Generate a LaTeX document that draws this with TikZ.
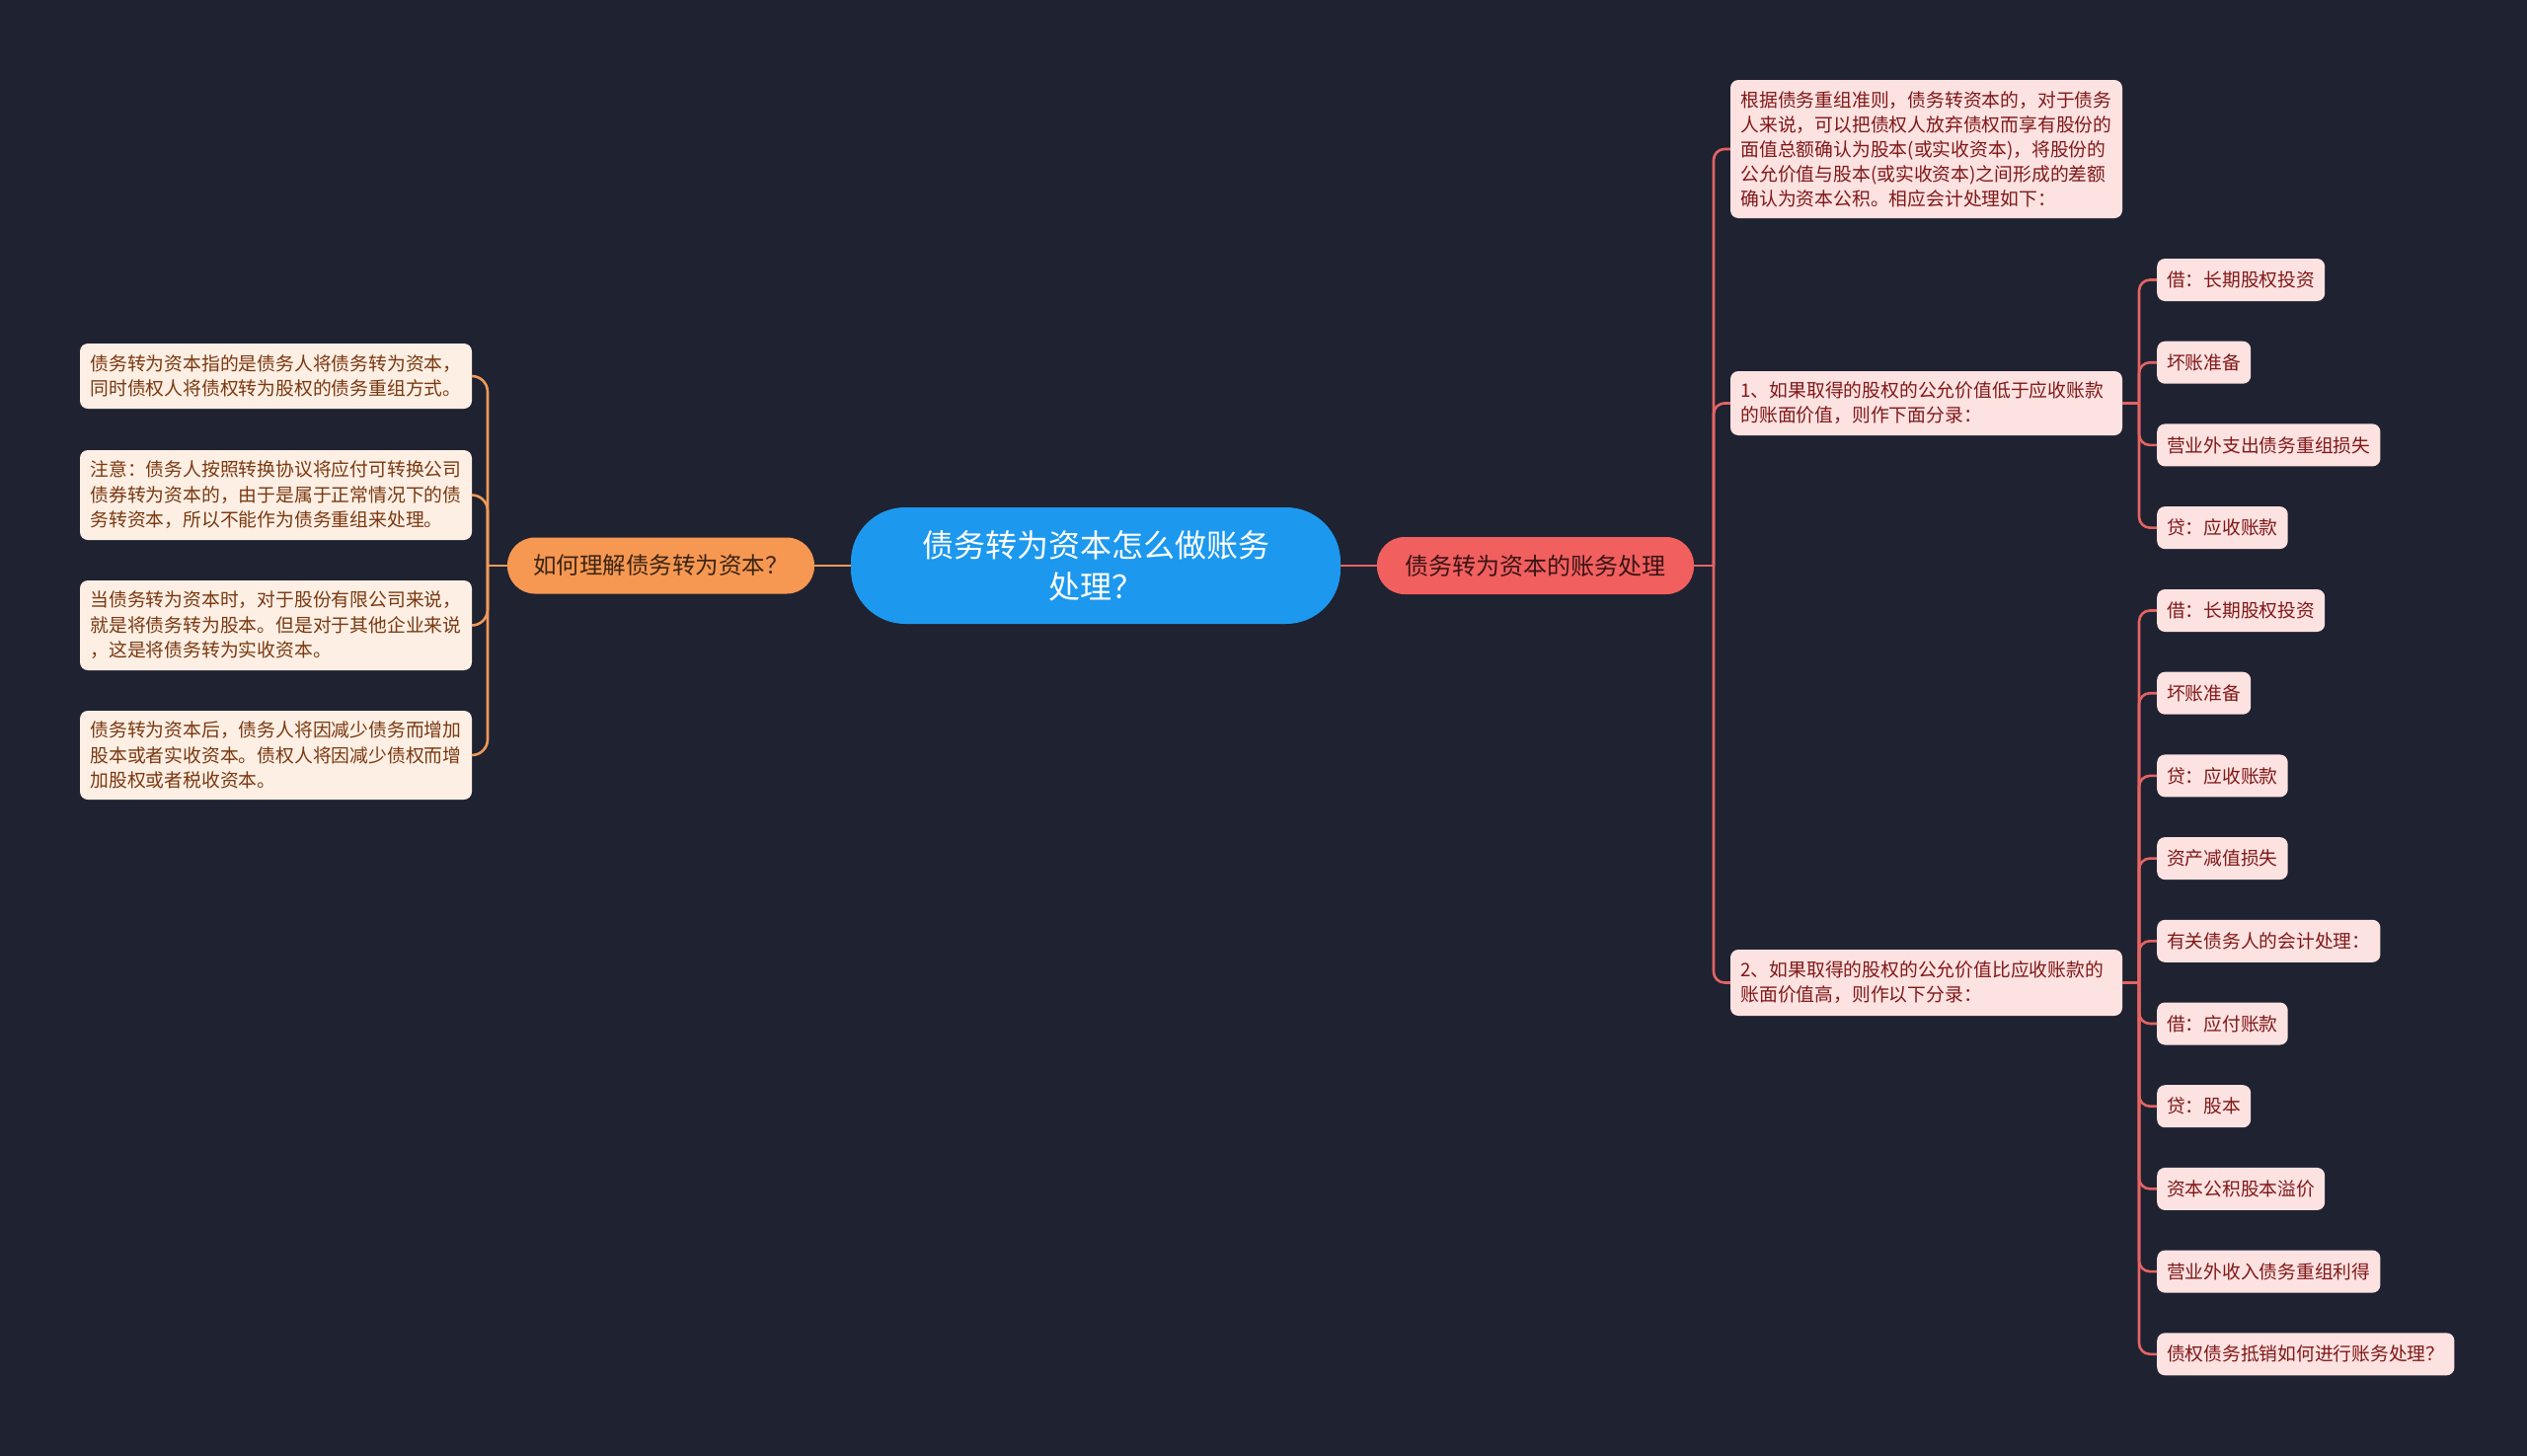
\documentclass[tikz,border=0pt]{standalone}
\usepackage{fontspec}
\setmainfont{Noto Sans CJK SC}
\definecolor{bg}{HTML}{1F2230}
\definecolor{cblue}{HTML}{1C99EE}
\definecolor{corange}{HTML}{F79852}
\definecolor{cred}{HTML}{F25F5F}
\definecolor{lorange}{HTML}{EE9A5A}
\definecolor{lred}{HTML}{E46464}
\definecolor{fillL}{HTML}{FDEFE4}
\definecolor{fillR}{HTML}{FDE2E2}
\definecolor{txtL}{HTML}{7A3810}
\definecolor{txtR}{HTML}{801818}
\definecolor{txtO}{HTML}{3A2414}
\definecolor{txtRd}{HTML}{3A1414}
\tikzset{
  rootnode/.style={fill=cblue, rounded corners=55pt, minimum width=496pt, minimum height=118pt,
    align=center, text=white, font=\fontsize{32}{42}\selectfont, inner sep=0pt},
  orangenode/.style={fill=corange, rounded corners=28pt, minimum width=311pt, minimum height=57pt,
    text=txtO, font=\fontsize{23.5}{28}\selectfont, inner sep=0pt},
  rednode/.style={fill=cred, rounded corners=28pt, minimum width=321pt, minimum height=58pt,
    text=txtRd, font=\fontsize{24}{28}\selectfont, inner sep=0pt},
  boxL/.style={fill=fillL, rounded corners=8pt, text width=376pt, inner xsep=10.5pt, inner ysep=0pt,
    align=left, text=txtL, font=\fontsize{18.8}{25.5}\selectfont},
  boxR/.style={fill=fillR, rounded corners=8pt, text width=376pt, inner xsep=10.5pt, inner ysep=0pt,
    align=left, text=txtR, font=\fontsize{18.8}{25}\selectfont},
  leafR/.style={fill=fillR, rounded corners=8pt, anchor=west, inner xsep=10pt, inner ysep=0pt,
    minimum height=43pt, text=txtR, font=\fontsize{18.75}{22}\selectfont},
  linkL/.style={draw=lorange, line width=2.6pt, rounded corners=16pt},
  linkR/.style={draw=lred, line width=2.6pt, rounded corners=11pt},
}
\begin{document}
\begin{tikzpicture}[x=1pt,y=-1pt]
\useasboundingbox[fill=bg] (0,0) rectangle (2560,1475);

% central and main branches
\node[rootnode] (root) at (1110,573) {债务转为资本怎么做账务\\处理？};
\node[orangenode] (ob) at (669.5,573) {如何理解债务转为资本？};
\node[rednode] (rb) at (1555.5,573) {债务转为资本的账务处理};

% left boxes
\node[boxL, minimum height=66pt] (L1) at (279.5,381) {债务转为资本指的是债务人将债务转为资本，\\同时债权人将债权转为股权的债务重组方式。};
\node[boxL, minimum height=91pt] (L2) at (279.5,501.5) {注意：债务人按照转换协议将应付可转换公司\\债券转为资本的，由于是属于正常情况下的债\\务转资本，所以不能作为债务重组来处理。};
\node[boxL, minimum height=91pt] (L3) at (279.5,633.5) {当债务转为资本时，对于股份有限公司来说，\\就是将债务转为股本。但是对于其他企业来说\\，这是将债务转为实收资本。};
\node[boxL, minimum height=90pt] (L4) at (279.5,765) {债务转为资本后，债务人将因减少债务而增加\\股本或者实收资本。债权人将因减少债权而增\\加股权或者税收资本。};

% right boxes
\node[boxR, minimum height=140pt] (RA) at (1951.5,151) {根据债务重组准则，债务转资本的，对于债务\\人来说，可以把债权人放弃债权而享有股份的\\面值总额确认为股本(或实收资本)，将股份的\\公允价值与股本(或实收资本)之间形成的差额\\确认为资本公积。相应会计处理如下：};
\node[boxR, minimum height=65pt] (RB) at (1951.5,408.5) {1、如果取得的股权的公允价值低于应收账款\\的账面价值，则作下面分录：};
\node[boxR, minimum height=67pt] (RC) at (1951.5,995.5) {2、如果取得的股权的公允价值比应收账款的\\账面价值高，则作以下分录：};

% leaves group 1
\node[leafR] (a1) at (2185,283.5) {借：长期股权投资};
\node[leafR] (a2) at (2185,367.2) {坏账准备};
\node[leafR] (a3) at (2185,450.9) {营业外支出债务重组损失};
\node[leafR] (a4) at (2185,534.6) {贷：应收账款};

% leaves group 2
\node[leafR] (b1) at (2185,618.5) {借：长期股权投资};
\node[leafR] (b2) at (2185,702.2) {坏账准备};
\node[leafR] (b3) at (2185,785.9) {贷：应收账款};
\node[leafR] (b4) at (2185,869.6) {资产减值损失};
\node[leafR] (b5) at (2185,953.3) {有关债务人的会计处理：};
\node[leafR] (b6) at (2185,1037) {借：应付账款};
\node[leafR] (b7) at (2185,1120.7) {贷：股本};
\node[leafR] (b8) at (2185,1204.4) {资本公积股本溢价};
\node[leafR] (b9) at (2185,1288.1) {营业外收入债务重组利得};
\node[leafR] (b10) at (2185,1371.8) {债权债务抵销如何进行账务处理？};

% trunk coordinates
\coordinate (tL) at (494,573);
\coordinate (tR) at (1736,573);
\coordinate (tB) at (2167,408.5);
\coordinate (tC) at (2167,995.5);

% connectors
\draw[draw=lorange, line width=2.6pt] (root.west) -- (ob.east);
\draw[draw=lred, line width=2.6pt] (root.east) -- (rb.west);

\draw[draw=lorange, line width=2.6pt] (ob.west) -- (tL);
\foreach \n in {L1,L2,L3,L4}{
  \draw[linkL] (tL) -- (tL |- \n.east) -- (\n.east);
}

\draw[draw=lred, line width=2.6pt] (rb.east) -- (tR);
\foreach \n in {RA,RB,RC}{
  \draw[linkR] (tR) -- (tR |- \n.west) -- (\n.west);
}

\draw[draw=lred, line width=2.6pt] (RB.east) -- (tB);
\foreach \n in {a1,a2,a3,a4}{
  \draw[linkR] (tB) -- (tB |- \n.west) -- (\n.west);
}
\draw[draw=lred, line width=2.6pt] (RC.east) -- (tC);
\foreach \n in {b1,b2,b3,b4,b5,b6,b7,b8,b9,b10}{
  \draw[linkR] (tC) -- (tC |- \n.west) -- (\n.west);
}
\end{tikzpicture}
\end{document}
